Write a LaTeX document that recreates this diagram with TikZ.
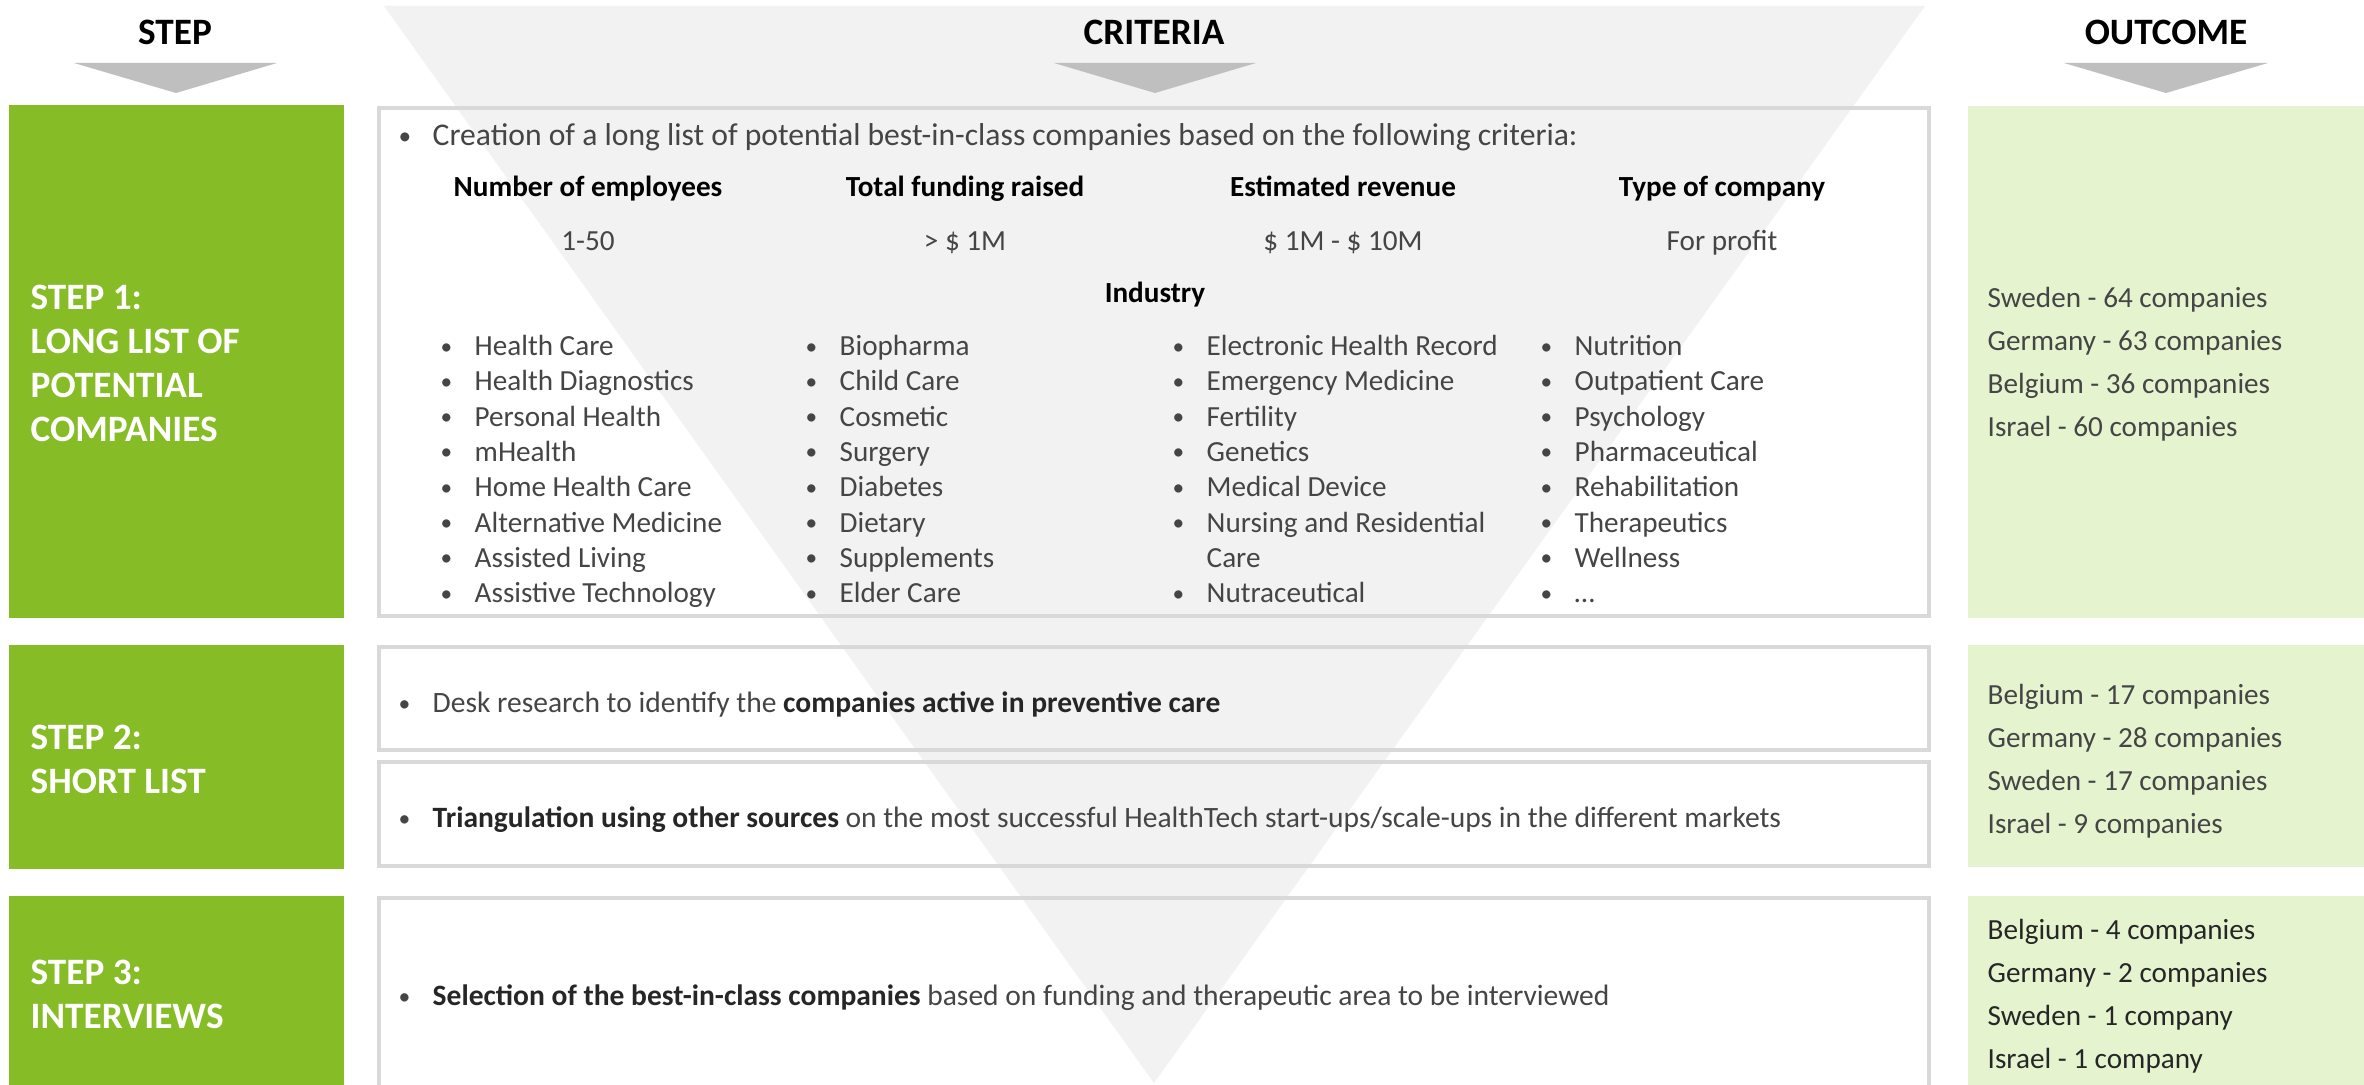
\documentclass[tikz,border=0pt]{standalone}
\usepackage{fontspec}
\setmainfont{Carlito}
\usepackage{tikz}
\usetikzlibrary{positioning}
\definecolor{stepgreen}{HTML}{86BC25}
\definecolor{outgreen}{HTML}{E5F4CF}
\definecolor{tribg}{HTML}{F2F2F2}
\definecolor{chevgray}{HTML}{BFBFBF}
\definecolor{boxline}{HTML}{D9D9D9}
\definecolor{txtgray}{HTML}{454545}
\definecolor{txtdark}{HTML}{262626}
\newcommand{\bodysize}{\fontsize{8.3}{10.05}\selectfont}
\newcommand{\leadsize}{\fontsize{9}{10.05}\selectfont}
\newcommand{\notesize}{\fontsize{8.4}{10.05}\selectfont}
\newcommand{\outsize}{\fontsize{8.3}{12.2}\selectfont}
\newcommand{\stepsize}{\fontsize{10.6}{12.5}\selectfont}
\newcommand{\itm}{\makebox[3.4mm][l]{\raisebox{0.1ex}{\scalebox{0.8}{\textbullet}}}}

\begin{document}
\begin{tikzpicture}[x=0.1mm,y=-0.1mm,
  hdr/.style={font=\fontsize{10.6}{13}\selectfont\bfseries,inner sep=0,text height=1.4ex,text depth=0pt},
  chev/.style={fill=chevgray},
  critbox/.style={draw=boxline,line width=1pt},
  body/.style={font=\bodysize,text=txtgray,inner sep=0,text height=1.4ex,text depth=0pt},
  colhead/.style={body,font=\bodysize\bfseries,text=black},
  note/.style={body,font=\notesize,anchor=west},
  indlist/.style={font=\bodysize,text=txtgray,align=left,anchor=north west,inner sep=0},
  steplabel/.style={font=\stepsize\bfseries,text=white,align=left,anchor=north west,inner sep=0},
  outlist/.style={font=\outsize,text=txtgray,align=left,anchor=north west,inner sep=0}]
  \clip (0,0) rectangle (2364,1085); % 描画範囲
  \fill[white] (0,0) rectangle (2364,1085);
  \def\cL{379}  % 中央の枠の左端
  \def\cR{1929} % 中央の枠の右端
  \def\oL{1968} % 右の枠の左端
  \fill[tribg] (384,6) -- (1925,6) -- (1154,1083) -- cycle; % 背景の逆三角形
  \node[hdr] (hstep) at (175,33) {STEP};
  \node[hdr] (hcrit) at (1154,33) {CRITERIA};
  \node[hdr] (hout) at (2166,33) {OUTCOME};
  \fill[chev] (74,63) -- (277,63) -- (176,93) -- cycle; % 見出しの下の矢印
  \fill[chev] (1054,63) -- (1256,63) -- (1155,93) -- cycle;
  \fill[chev] (2064,63) -- (2268,63) -- (2166,93) -- cycle;
  \fill[stepgreen] (9,105) rectangle (344,618); % STEP 1
  \fill[stepgreen] (9,645) rectangle (344,869); % STEP 2
  \fill[stepgreen] (9,896) rectangle (344,1100); % STEP 3
  \draw[critbox] (\cL,108) rectangle (\cR,616);
  \draw[critbox] (\cL,647) rectangle (\cR,750);
  \draw[critbox] (\cL,762) rectangle (\cR,866);
  \draw[critbox] (\cL,898) rectangle (\cR,1100); % 下端は切れる
  \fill[outgreen] (\oL,106) rectangle (2364,618);
  \fill[outgreen] (\oL,645) rectangle (2364,867);
  \fill[outgreen] (\oL,896) rectangle (2364,1100);
  % 左の列
  \node[steplabel] (lab1) at (30,278) {\strut STEP 1:\\LONG LIST OF\\POTENTIAL\\COMPANIES};
  \node[steplabel] (lab2) at (30,718) {\strut STEP 2:\\SHORT LIST};
  \node[steplabel] (lab3) at (30,953) {\strut STEP 3:\\INTERVIEWS};
  % 中央の列
  \node[body,font=\leadsize,anchor=west] (crea) at (398,134) {\itm Creation of a long list of potential best-in-class companies based on the following criteria:};
  \node[colhead] (hemp) at (588,185) {Number of employees};
  \node[colhead] (hfund) at (965,185) {Total funding raised};
  \node[colhead] (hrev) at (1343,185) {Estimated revenue};
  \node[colhead] (htype) at (1722,185) {Type of company};
  \node[body] (vemp) at (588,239) {1-50};
  \node[body] (vfund) at (965,239) {> \$ 1M};
  \node[body] (vrev) at (1343,239) {\$ 1M - \$ 10M};
  \node[body] (vtype) at (1722,239) {For profit};
  \node[colhead] (hind) at (1155,291) {Industry};
  \node[indlist] (ind1) at (440,330) {\strut\itm Health Care\\\itm Health Diagnostics\\\itm Personal Health\\\itm mHealth\\\itm Home Health Care\\\itm Alternative Medicine\\\itm Assisted Living\\\itm Assistive Technology};
  \node[indlist] (ind2) at (805,330) {\strut\itm Biopharma\\\itm Child Care\\\itm Cosmetic\\\itm Surgery\\\itm Diabetes\\\itm Dietary\\\itm Supplements\\\itm Elder Care};
  \node[indlist] (ind3) at (1172,330) {\strut\itm Electronic Health Record\\\itm Emergency Medicine\\\itm Fertility\\\itm Genetics\\\itm Medical Device\\\itm Nursing and Residential\\\hspace*{3.4mm}Care\\\itm Nutraceutical};
  \node[indlist] (ind4) at (1540,330) {\strut\itm Nutrition\\\itm Outpatient Care\\\itm Psychology\\\itm Pharmaceutical\\\itm Rehabilitation\\\itm Therapeutics\\\itm Wellness\\\itm …};
  \node[note] (desk) at (398,701) {\itm Desk research to identify the \textbf{\color{txtdark}companies active in preventive care}};
  \node[note] (trian) at (398,816) {\itm\textbf{\color{txtdark}Triangulation using other sources} on the most successful HealthTech start-ups/scale-ups in the different markets};
  \node[note] (sel) at (398,994) {\itm\textbf{\color{txtdark}Selection of the best-in-class companies} based on funding and therapeutic area to be interviewed};
  % 右の列
  \node[outlist] (out1) at (1987,277) {\strut Sweden - 64 companies\\Germany - 63 companies\\Belgium - 36 companies\\Israel - 60 companies};
  \node[outlist] (out2) at (1987,674) {\strut Belgium - 17 companies\\Germany - 28 companies\\Sweden - 17 companies\\Israel - 9 companies};
  \node[outlist,text=txtdark] (out3) at (1987,909) {\strut Belgium - 4 companies\\Germany - 2 companies\\Sweden - 1 company\\Israel - 1 company};
\end{tikzpicture}
\end{document}
